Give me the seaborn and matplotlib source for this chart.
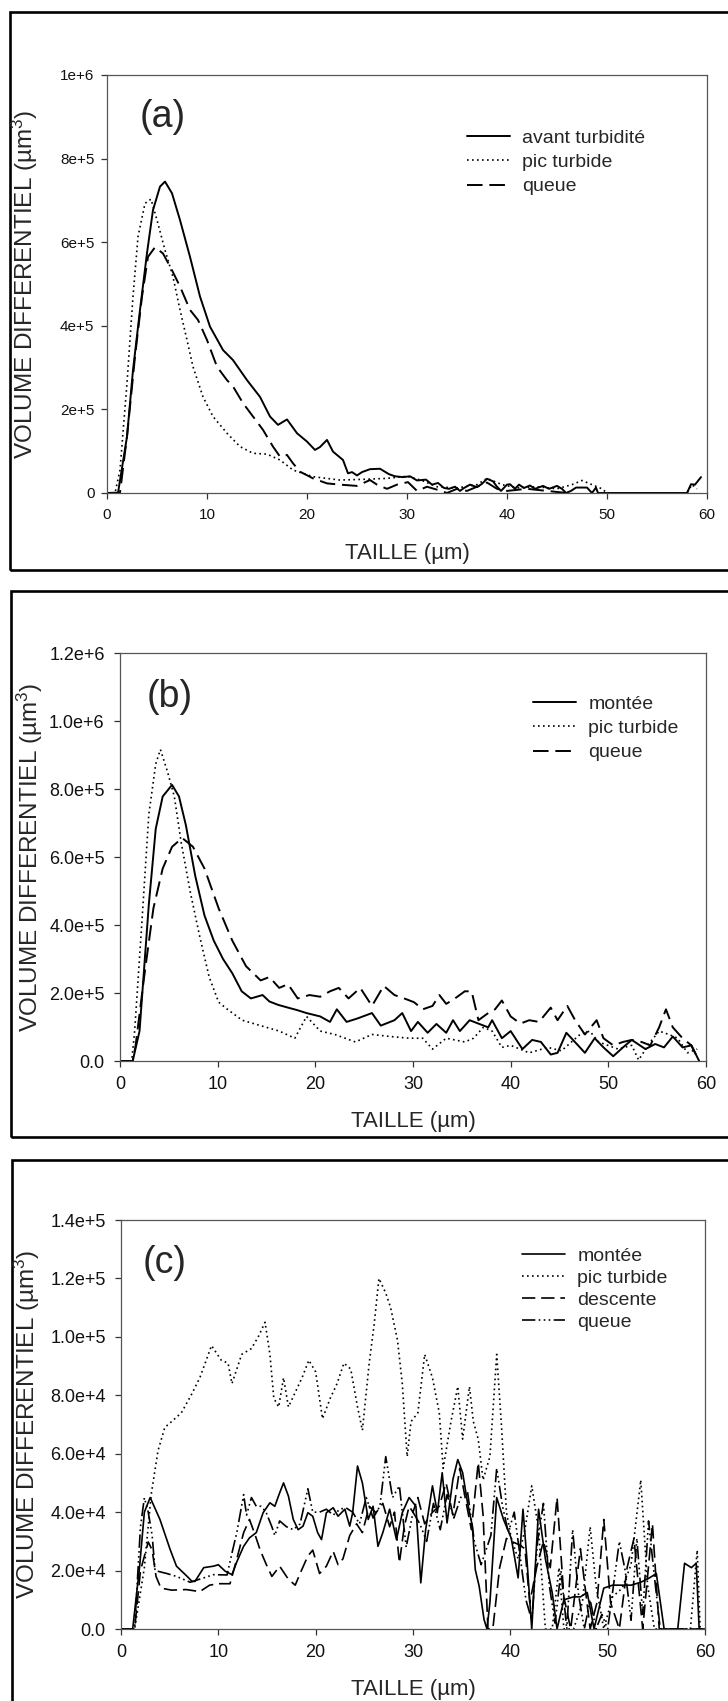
import numpy as np
import pandas as pd
import matplotlib
matplotlib.use("Agg")
import matplotlib.pyplot as plt
from matplotlib.patches import Rectangle
import seaborn as sns

# ---- data : (taille in µm, volume) ; panels a,b in 1e5 µm3, panel c in 1e4 µm3
a_avant = [(0, 0), (1.1, 0), (2.0, 1.35), (2.6, 2.94), (3.3, 4.38), (4.0, 5.74), (4.6, 6.77),
           (5.3, 7.33), (5.8, 7.45), (6.5, 7.17), (7.3, 6.53), (8.3, 5.65), (9.3, 4.70),
           (10.3, 3.98), (11.6, 3.42), (12.6, 3.18), (14.0, 2.70), (15.3, 2.30), (16.3, 1.83),
           (17.1, 1.63), (18.0, 1.76), (19.0, 1.43), (20.0, 1.23), (20.8, 1.03), (21.3, 1.10),
           (22.0, 1.27), (22.6, 0.99), (23.6, 0.79), (24.1, 0.47), (24.5, 0.50), (25.0, 0.42),
           (25.5, 0.50), (26.3, 0.57), (27.3, 0.58), (28.2, 0.45), (28.8, 0.40), (29.6, 0.38),
           (30.3, 0.40), (31.0, 0.30), (31.9, 0.32), (32.5, 0.20), (33.1, 0.24), (33.7, 0.12),
           (34.2, 0.10), (34.8, 0.15), (35.3, 0.05), (35.7, 0.12), (36.3, 0.20), (37.0, 0.14),
           (37.5, 0.22), (38.0, 0.34), (38.6, 0.28), (39.0, 0.15), (39.4, 0.05), (40.0, 0.20),
           (40.3, 0.21), (40.8, 0.10), (41.2, 0.20), (41.7, 0.12), (42.3, 0.18), (42.8, 0.10),
           (43.6, 0.17), (44.2, 0.10), (45.0, 0.17), (45.5, 0.10), (45.9, 0.0), (46.4, 0.05),
           (46.9, 0.13), (48.0, 0.13), (48.5, 0.0), (48.9, 0.13), (49.1, 0.0), (58.0, 0.0),
           (58.4, 0.21), (58.8, 0.20), (59.4, 0.38)]
a_pic = [(0, 0), (0.8, 0), (1.3, 0.55), (2.0, 2.63), (2.6, 4.70), (3.1, 6.13), (3.8, 6.93),
         (4.4, 7.03), (5.0, 6.53), (5.8, 5.81), (6.6, 5.17), (7.3, 4.38), (8.0, 3.66), (8.6, 3.02),
         (9.6, 2.30), (10.6, 1.83), (12.0, 1.43), (13.3, 1.11), (14.6, 0.95), (16.0, 0.93),
         (17.3, 0.79), (18.6, 0.55), (20.6, 0.39), (23.3, 0.31), (26.0, 0.33), (28.0, 0.35),
         (30.0, 0.40), (31.5, 0.30), (33.0, 0.15), (35.0, 0.12), (37.0, 0.20), (38.0, 0.35),
         (39.5, 0.20), (41.0, 0.12), (43.0, 0.15), (45.0, 0.10), (46.5, 0.20), (47.5, 0.30),
         (48.5, 0.20), (49.5, 0.10), (50.0, 0.0), (58.0, 0.0), (58.5, 0.20), (59.0, 0.10)]
a_queue = [(0, 0), (1.3, 0.01), (2.0, 1.35), (2.8, 3.26), (3.5, 4.70), (4.1, 5.65), (4.8, 5.88),
           (5.6, 5.73), (6.5, 5.33), (7.3, 4.94), (8.3, 4.38), (9.1, 4.14), (10.0, 3.66),
           (11.0, 3.02), (12.0, 2.70), (12.6, 2.55), (13.6, 2.15), (14.6, 1.83), (15.6, 1.51),
           (16.6, 1.11), (17.3, 0.87), (18.0, 0.91), (18.6, 0.71), (19.3, 0.51), (20.6, 0.35),
           (22.0, 0.23), (23.3, 0.20), (25.0, 0.17), (26.3, 0.31), (27.0, 0.20), (28.0, 0.10),
           (29.0, 0.20), (30.1, 0.26), (31.0, 0.05), (32.0, 0.15), (33.0, 0.08), (34.0, 0.0),
           (35.0, 0.10), (36.0, 0.05), (37.0, 0.15), (38.0, 0.25), (39.0, 0.10), (40.0, 0.05),
           (42.0, 0.10), (44.0, 0.05), (46.0, 0.0)]

b_montee = [(0, 0), (1.3, 0), (2.0, 0.88), (2.95, 4.60), (3.66, 6.83), (4.37, 7.78), (5.33, 8.12),
            (6.04, 7.78), (6.75, 6.93), (7.7, 5.45), (8.65, 4.28), (9.6, 3.54), (10.55, 3.00),
            (11.5, 2.58), (12.46, 2.05), (13.4, 1.84), (14.6, 1.94), (15.3, 1.75), (16.2, 1.65),
            (17.2, 1.57), (18.1, 1.50), (19.1, 1.41), (20.5, 1.31), (21.5, 1.15), (22.2, 1.52),
            (23.2, 1.15), (24.3, 1.25), (25.8, 1.41), (26.7, 1.04), (28.1, 1.20), (28.9, 1.41),
            (29.8, 0.88), (30.5, 1.15), (31.5, 0.83), (32.4, 1.09), (33.4, 0.83), (34.1, 1.20),
            (34.8, 0.88), (35.8, 1.20), (36.7, 1.10), (37.7, 0.99), (38.1, 1.20), (39.1, 0.67),
            (40.0, 0.88), (41.2, 0.35), (42.2, 0.62), (43.1, 0.56), (44.1, 0.19), (44.8, 0.24),
            (45.7, 0.83), (46.9, 0.46), (47.6, 0.24), (48.6, 0.67), (49.5, 0.40), (50.5, 0.14),
            (51.5, 0.40), (52.4, 0.62), (53.8, 0.35), (54.8, 0.50), (55.7, 0.40), (56.6, 0.72),
            (57.6, 0.40), (58.5, 0.46), (59.3, 0.0)]
b_pic = [(0, 0), (1.2, 0), (1.5, 0.88), (2.24, 4.07), (2.95, 7.25), (3.66, 8.74), (4.14, 9.16),
         (4.85, 8.52), (5.56, 7.78), (6.28, 6.40), (7.23, 4.92), (8.18, 3.64), (9.13, 2.47),
         (10.1, 1.73), (11.0, 1.52), (12.5, 1.20), (14.4, 1.04), (16.3, 0.88), (17.9, 0.67),
         (19.1, 1.31), (20.5, 0.88), (22.0, 0.78), (24.1, 0.56), (25.8, 0.78), (27.7, 0.72),
         (29.6, 0.67), (31.0, 0.67), (32.0, 0.35), (33.4, 0.67), (35.3, 0.56), (36.2, 0.67),
         (37.2, 0.99), (38.1, 0.88), (39.1, 0.40), (40.0, 0.46), (41.9, 0.24), (43.8, 0.40),
         (45.2, 0.30), (47.1, 0.78), (48.1, 0.88), (49.0, 0.56), (51.0, 0.35), (52.4, 0.46),
         (53.1, 0.03), (54.3, 0.56), (55.2, 0.88), (56.2, 0.78), (57.1, 0.67), (58.1, 0.24),
         (59.1, 0.35)]
b_queue = [(0, 0), (1.3, 0), (1.6, 0.46), (2.47, 2.47), (3.42, 4.49), (4.37, 5.66), (5.33, 6.30),
           (6.37, 6.56), (7.47, 6.30), (8.65, 5.66), (10.1, 4.49), (11.5, 3.54), (12.9, 2.79),
           (14.4, 2.37), (15.3, 2.47), (16.3, 2.15), (17.2, 2.26), (18.2, 1.84), (19.4, 1.94),
           (20.5, 1.89), (21.5, 2.05), (22.4, 2.15), (23.4, 1.84), (24.6, 2.15), (25.8, 1.62),
           (27.0, 2.21), (28.1, 1.94), (29.1, 1.84), (30.1, 1.73), (31.0, 1.52), (32.0, 1.62),
           (32.7, 1.94), (33.4, 1.68), (34.3, 1.84), (35.3, 2.05), (36.0, 2.05), (36.7, 1.20),
           (37.7, 1.41), (38.4, 1.52), (39.1, 1.78), (40.0, 1.31), (41.0, 1.10), (41.9, 1.20),
           (42.9, 1.15), (44.1, 1.57), (44.8, 1.20), (45.8, 1.62), (46.6, 1.20), (47.6, 0.78),
           (48.8, 1.20), (49.5, 0.67), (50.5, 0.46), (51.5, 0.56), (52.4, 0.62), (53.4, 0.56),
           (54.3, 0.46), (55.2, 0.99), (55.9, 1.52), (56.6, 0.99), (57.6, 0.67), (58.5, 0.46),
           (59.3, 0.0)]

c_montee = [(0, 0), (1.2, 0), (1.9, 2.1), (2.4, 4.0), (3.0, 4.5), (4.0, 3.75), (5.05, 2.72),
            (5.7, 2.15), (6.8, 1.8), (7.3, 1.63), (7.6, 1.63), (8.5, 2.1), (9.5, 2.15), (10.0, 2.2),
            (10.7, 1.98), (11.4, 1.86), (11.9, 2.3), (12.6, 2.83), (13.2, 3.12), (13.9, 3.3),
            (14.6, 3.98), (15.3, 4.32), (15.8, 4.2), (16.3, 4.66), (16.7, 5.0), (17.2, 4.55),
            (17.7, 3.75), (18.2, 3.4), (18.7, 3.52), (19.2, 3.98), (19.7, 3.86), (20.2, 3.3),
            (20.6, 3.06), (21.1, 3.98), (21.8, 4.15), (22.3, 3.86), (23.0, 4.1), (23.5, 3.52),
            (23.8, 3.98), (24.3, 5.58), (24.8, 5.0), (25.4, 3.75), (25.9, 4.2), (26.4, 2.83),
            (26.9, 3.3), (27.6, 4.1), (28.3, 3.06), (28.9, 3.98), (29.6, 4.5), (30.3, 4.2),
            (30.8, 1.58), (31.3, 3.4), (32.0, 4.9), (32.5, 3.98), (33.0, 5.35), (33.5, 3.63),
            (34.1, 5.12), (34.6, 5.8), (35.1, 5.35), (35.6, 4.32), (36.1, 3.52), (36.4, 2.03),
            (36.8, 1.46), (37.3, 0.32), (37.6, 0.0), (37.9, 0.9), (38.6, 4.5), (39.3, 3.75),
            (40.1, 3.1), (40.8, 1.75), (41.3, 4.1), (41.7, 2.4), (42.2, 0.0), (42.9, 4.1),
            (43.6, 2.4), (44.3, 1.25), (44.8, 0.0), (45.5, 1.0), (46.5, 1.1), (47.2, 1.1),
            (47.9, 1.25), (48.6, 0.0), (49.6, 1.4), (50.5, 1.5), (51.5, 1.5), (52.4, 1.5),
            (53.4, 1.6), (54.3, 1.75), (55.0, 1.9), (55.8, 0.0), (57.2, 0.0), (57.9, 2.25),
            (58.6, 2.1), (59.1, 2.25), (59.4, 0.0), (60.0, 0.0)]
c_pic = [(0, 0), (1.4, 0), (2.4, 2.1), (3.1, 4.6), (3.8, 6.1), (4.5, 6.9), (5.2, 7.1), (6.2, 7.4),
         (7.2, 8.0), (8.1, 8.6), (9.3, 9.7), (10.3, 9.2), (11.0, 9.1), (11.4, 8.4), (12.4, 9.4),
         (13.4, 9.6), (14.1, 10.0), (14.8, 10.5), (15.3, 9.4), (15.7, 7.9), (16.2, 7.6), (16.7, 8.6),
         (17.2, 7.6), (17.9, 8.1), (18.6, 8.6), (19.3, 9.2), (20.0, 8.8), (20.7, 7.2), (21.5, 7.9),
         (22.2, 8.4), (22.9, 9.1), (23.6, 8.9), (24.3, 7.6), (24.8, 6.8), (25.5, 9.1), (26.0, 10.4),
         (26.5, 12.0), (27.2, 11.5), (27.7, 11.0), (28.4, 9.9), (28.9, 8.4), (29.4, 5.9),
         (29.8, 7.1), (30.5, 7.4), (31.2, 9.4), (32.0, 8.6), (32.7, 7.4), (33.1, 5.5), (33.9, 7.1),
         (34.6, 8.3), (35.1, 6.5), (35.8, 8.3), (36.2, 7.1), (36.7, 6.5), (37.2, 5.1), (37.9, 5.9),
         (38.6, 9.4), (39.1, 6.9), (39.6, 4.0), (40.1, 3.1), (40.8, 2.4), (41.5, 3.4), (42.2, 4.9),
         (42.9, 3.4), (43.6, 0.0), (44.3, 0.0), (45.0, 2.1), (45.5, 0.0), (46.5, 0.0), (47.4, 0.9),
         (48.2, 3.5), (48.8, 1.5), (49.6, 0.0), (50.5, 1.1), (51.5, 1.4), (52.4, 2.2), (53.4, 5.1),
         (54.1, 1.5), (54.8, 0.0), (58.5, 0.0), (59.2, 2.7), (59.5, 0.0)]
c_descente = [(0, 0), (1.4, 0), (2.0, 2.0), (2.8, 2.98), (3.2, 2.7), (3.6, 1.8), (4.1, 1.4),
              (5.2, 1.33), (6.7, 1.35), (8.1, 1.28), (9.1, 1.5), (10.0, 1.55), (11.2, 1.55),
              (11.9, 2.4), (12.6, 3.3), (13.2, 3.75), (13.8, 3.2), (14.3, 2.7), (15.0, 2.15),
              (15.5, 1.8), (16.3, 2.15), (17.2, 1.7), (17.9, 1.5), (18.4, 1.9), (19.2, 2.5),
              (19.7, 2.7), (20.4, 1.9), (21.1, 2.15), (21.8, 2.66), (22.3, 2.2), (22.8, 2.4),
              (23.5, 3.2), (24.2, 3.6), (24.8, 3.3), (25.5, 4.2), (26.2, 3.98), (26.9, 4.3),
              (27.6, 3.5), (28.1, 4.0), (28.6, 2.26), (29.1, 3.5), (29.6, 4.2), (30.0, 4.0),
              (30.5, 4.5), (31.2, 3.6), (32.0, 4.0), (32.7, 4.2), (33.4, 5.0), (34.1, 3.9),
              (34.8, 5.5), (35.3, 4.6), (36.0, 3.4), (36.7, 5.7), (37.2, 3.9), (37.7, 0.0),
              (38.2, 0.0), (38.9, 2.1), (39.6, 3.1), (40.1, 3.0), (40.8, 2.9), (41.5, 2.75),
              (42.0, 0.9), (42.7, 2.1), (43.4, 3.0), (44.1, 2.1), (44.8, 4.5), (45.5, 1.1),
              (46.2, 0.0), (47.2, 2.75), (48.2, 0.0), (48.9, 0.9), (49.6, 3.75), (50.3, 0.9),
              (51.2, 0.0), (52.0, 2.1), (52.7, 3.1), (53.6, 0.0), (54.6, 3.6), (55.3, 0.0),
              (60.0, 0.0)]
c_queue = [(0, 0), (1.4, 0), (2.0, 3.5), (2.4, 4.49), (2.8, 4.0), (3.2, 3.2), (3.5, 2.0),
           (4.7, 1.9), (5.7, 1.8), (7.1, 1.6), (8.5, 1.75), (9.5, 1.86), (10.9, 1.85), (11.4, 2.6),
           (11.9, 3.3), (12.6, 4.6), (12.9, 3.9), (13.4, 4.5), (13.9, 4.2), (14.4, 4.2), (14.9, 4.0),
           (15.5, 3.5), (15.8, 3.2), (16.3, 3.7), (17.0, 3.5), (17.7, 3.4), (18.4, 3.6), (19.2, 4.8),
           (19.7, 4.0), (20.4, 4.0), (21.1, 4.1), (21.8, 3.9), (22.5, 4.1), (23.1, 4.15),
           (23.8, 4.0), (24.5, 3.6), (25.2, 4.5), (25.9, 3.8), (26.6, 4.2), (27.2, 5.9), (27.9, 4.5),
           (28.6, 4.9), (29.3, 2.8), (30.0, 4.0), (30.7, 3.6), (31.4, 3.0), (32.1, 4.3), (32.8, 3.4),
           (33.5, 4.6), (34.2, 3.8), (34.9, 4.5), (35.6, 4.7), (36.3, 3.0), (37.0, 2.2), (37.5, 2.7),
           (38.0, 3.2), (38.6, 5.5), (39.2, 4.2), (39.8, 3.3), (40.4, 4.0), (41.0, 2.5), (41.6, 1.0),
           (42.2, 0.3), (42.8, 3.0), (43.4, 4.3), (44.0, 1.5), (44.6, 0.2), (45.2, 2.0), (45.8, 0.0),
           (46.4, 3.4), (47.0, 1.2), (47.6, 0.0), (48.2, 1.0), (48.8, 0.0), (49.4, 0.5), (50.0, 0.0),
           (50.6, 1.5), (51.2, 3.0), (51.8, 2.0), (52.4, 0.3), (53.0, 3.1), (53.6, 0.5), (54.2, 3.7),
           (54.8, 1.8), (55.4, 0.0), (56.0, 0.0), (60.0, 0.0)]

a_yticks = [0, 2e5, 4e5, 6e5, 8e5, 1e6]
a_ylabels = ["0", "2e+5", "4e+5", "6e+5", "8e+5", "1e+6"]
b_yticks = [0, 2e5, 4e5, 6e5, 8e5, 1e6, 1.2e6]
b_ylabels = ["0.0", "2.0e+5", "4.0e+5", "6.0e+5", "8.0e+5", "1.0e+6", "1.2e+6"]
c_yticks = [0, 2e4, 4e4, 6e4, 8e4, 1e5, 1.2e5, 1.4e5]
c_ylabels = ["0.0", "2.0e+4", "4.0e+4", "6.0e+4", "8.0e+4", "1.0e+5", "1.2e+5", "1.4e+5"]
x_ticks = [0, 10, 20, 30, 40, 50, 60]

sns.set_style("ticks")
plt.rcParams["font.family"] = ["Liberation Sans", "DejaVu Sans"]
plt.rcParams["mathtext.fontset"] = "custom"
plt.rcParams["mathtext.rm"] = "Liberation Sans"
plt.rcParams["mathtext.it"] = "Liberation Sans:italic"

W, H = 728, 1701
fig = plt.figure(figsize=(W / 100, H / 100), dpi=100)

LS = {"solid": "-", "dot": (0, (1, 2)), "dash": (0, (8, 3.5)),
      "dashdotdot": (0, (8, 2, 1, 2, 1, 2, 1, 2))}


def px_axes(l, t, r, b):
    return fig.add_axes([l / W, 1 - b / H, (r - l) / W, (b - t) / H])


def draw(ax, pts, scale, label, ls, lw=1.4):
    df = pd.DataFrame(pts, columns=["taille", "volume"])
    df["volume"] = df["volume"] * scale
    sns.lineplot(data=df, x="taille", y="volume", ax=ax, color="black", linestyle=LS[ls],
                 linewidth=lw, label=label, estimator=None, sort=False)


def style(ax, ymax, yt, ylab, size, ypad):
    ax.set_xlim(0, 60)
    ax.set_ylim(0, ymax)
    ax.set_xticks(x_ticks)
    ax.set_yticks(yt)
    ax.set_yticklabels(ylab)
    ax.set_xlabel("")
    ax.set_ylabel("")
    for s in ax.spines.values():
        s.set_visible(True)
        s.set_color("#555555")
        s.set_linewidth(0.9)
    ax.tick_params(axis="both", direction="out", length=4, width=0.9, color="#333333",
                   labelsize=size, labelcolor="#111111")
    ax.tick_params(axis="x", pad=7)
    ax.tick_params(axis="y", pad=ypad)


def frame(l, t, r, b):
    fig.patches.append(Rectangle((l / W, 1 - b / H), (r - l) / W, (b - t) / H, fill=False,
                                 edgecolor="black", linewidth=1.9, transform=fig.transFigure))


def legend(ax, x, y, spacing):
    ax.legend(loc="upper left", bbox_to_anchor=(x / W, 1 - y / H), bbox_transform=fig.transFigure,
              frameon=False, fontsize=14, handlelength=2.2, handletextpad=0.65,
              labelspacing=spacing, borderpad=0, borderaxespad=0)


ylab = "VOLUME DIFFERENTIEL (µm$^{3}$)"

# (a)
ax_a = px_axes(107, 75, 707, 493)
draw(ax_a, a_avant, 1e5, "avant turbidité", "solid")
draw(ax_a, a_pic, 1e5, "pic turbide", "dot", 1.2)
draw(ax_a, a_queue, 1e5, "queue", "dash")
style(ax_a, 1e6, a_yticks, a_ylabels, 11, 5)
legend(ax_a, 467, 129, 0.35)
fig.text(163 / W, 1 - 117 / H, "(a)", fontsize=27, ha="center", va="center")
fig.text(407 / W, 1 - 553 / H, "TAILLE (µm)", fontsize=16, ha="center", va="center")
fig.text(25 / W, 1 - 284 / H, ylab, fontsize=17.5, rotation=90, ha="center", va="center")
frame(9.5, 12, 740, 569.7)

# (b)
ax_b = px_axes(120, 653, 706, 1061)
draw(ax_b, b_montee, 1e5, "montée", "solid")
draw(ax_b, b_pic, 1e5, "pic turbide", "dot", 1.2)
draw(ax_b, b_queue, 1e5, "queue", "dash")
style(ax_b, 1.2e6, b_yticks, b_ylabels, 13, 7)
legend(ax_b, 533, 695, 0.35)
fig.text(170 / W, 1 - 697 / H, "(b)", fontsize=27, ha="center", va="center")
fig.text(413 / W, 1 - 1121 / H, "TAILLE (µm)", fontsize=16, ha="center", va="center")
fig.text(30 / W, 1 - 857 / H, ylab, fontsize=17.5, rotation=90, ha="center", va="center")
frame(10.5, 591, 740, 1137)

# (c)
ax_c = px_axes(121, 1220, 705, 1629)
draw(ax_c, c_montee, 1e4, "montée", "solid", 1.2)
draw(ax_c, c_pic, 1e4, "pic turbide", "dot", 1.2)
draw(ax_c, c_descente, 1e4, "descente", "dash", 1.2)
draw(ax_c, c_queue, 1e4, "queue", "dashdotdot", 1.2)
style(ax_c, 1.4e5, c_yticks, c_ylabels, 13, 7)
legend(ax_c, 522, 1247, 0.23)
fig.text(165 / W, 1 - 1263 / H, "(c)", fontsize=27, ha="center", va="center")
fig.text(413 / W, 1 - 1689 / H, "TAILLE (µm)", fontsize=16, ha="center", va="center")
fig.text(27 / W, 1 - 1424 / H, ylab, fontsize=17.5, rotation=90, ha="center", va="center")
frame(12, 1159.5, 740, 1715)

fig.savefig("out.png", dpi=100, facecolor="white")
